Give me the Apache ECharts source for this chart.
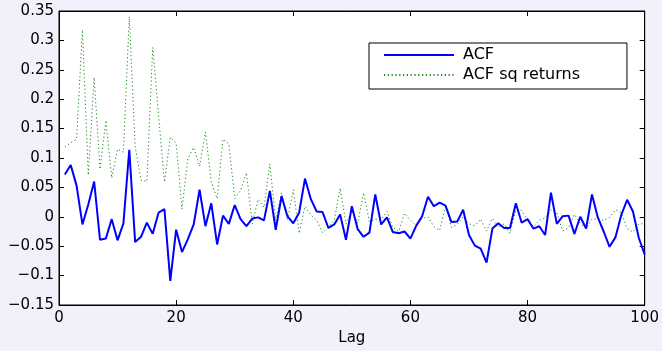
<!DOCTYPE html>
<html>
<head>
<meta charset="utf-8">
<script src="https://cdn.jsdelivr.net/npm/echarts@6/dist/echarts.min.js"></script>
<style>html,body{margin:0;padding:0;background:#f1f1fb;}#c{width:662px;height:351px;}</style>
</head>
<body>
<div id="c"></div>
<script>
var lags = [];
for (var i = 1; i <= 100; i++) lags.push(i);

var acf = [
 0.072, 0.088, 0.053,-0.013, 0.021, 0.060,-0.039,-0.037,-0.004,-0.040,
-0.011, 0.114,-0.043,-0.034,-0.010,-0.029, 0.007, 0.013,-0.109,-0.022,
-0.060,-0.038,-0.013, 0.046,-0.016, 0.023,-0.047, 0.002,-0.012, 0.020,
-0.004,-0.016,-0.003,-0.001,-0.006, 0.044,-0.022, 0.035, 0.001,-0.011,
 0.007, 0.065, 0.030, 0.009, 0.008,-0.019,-0.013, 0.004,-0.039, 0.018,
-0.021,-0.034,-0.027, 0.038,-0.013,-0.001,-0.026,-0.028,-0.025,-0.037,
-0.015, 0.001, 0.034, 0.018, 0.024, 0.019,-0.009,-0.008, 0.012,-0.031,
-0.049,-0.054,-0.078,-0.020,-0.011,-0.019,-0.019, 0.023,-0.010,-0.004,
-0.020,-0.016,-0.031, 0.041,-0.012, 0.001, 0.002,-0.029, 0.000,-0.020,
 0.038,-0.001,-0.025,-0.051,-0.035, 0.003, 0.029, 0.009,-0.036,-0.064
];

var acfSq = [
 0.119, 0.126, 0.132, 0.318, 0.071, 0.237, 0.081, 0.164, 0.066, 0.115,
 0.110, 0.340, 0.120, 0.062, 0.060, 0.288, 0.173, 0.059, 0.135, 0.125,
 0.013, 0.099, 0.118, 0.086, 0.144, 0.059, 0.031, 0.132, 0.124, 0.031,
 0.045, 0.075,-0.012, 0.030, 0.016, 0.090,-0.006, 0.041,-0.006, 0.046,
-0.028, 0.018, 0.003,-0.006,-0.027,-0.017,-0.006, 0.049,-0.012, 0.010,
-0.011, 0.041,-0.008,-0.004,-0.005, 0.009,-0.018,-0.025, 0.006,-0.006,
-0.015,-0.003, 0.000,-0.017,-0.023, 0.018,-0.018,-0.013, 0.000,-0.012,
-0.015,-0.004,-0.024,-0.003,-0.018,-0.012,-0.028, 0.012, 0.011,-0.006,
-0.017,-0.006,-0.002, 0.012, 0.007,-0.024,-0.019, 0.004,-0.011,-0.020,
-0.004,-0.004,-0.006,-0.001, 0.012, 0.007,-0.020,-0.026,-0.012,-0.012
];

var seriesNames = ['ACF', 'ACF sq returns'];
var xLabel = 'Lag';

function pairs(vals) { return lags.map(function (l, i) { return [l, vals[i]]; }); }
function fmtY(v) {
  var r = Math.round(v * 100) / 100;
  var s = String(r);
  return s.replace('-', '\u2212');
}

var FONT = 'DejaVu Sans';
var chart = echarts.init(document.getElementById('c'), null, {renderer: 'canvas'});
var axisLine = {show: true, onZero: false, lineStyle: {color: '#000', width: 1}};
var tick = {show: true, inside: true, length: 5, lineStyle: {color: '#000', width: 1}};

chart.setOption({
  backgroundColor: '#f1f1fb',
  animation: false,
  grid: {left: 59, right: 16, top: 11, bottom: 33, show: true, backgroundColor: '#ffffff', borderColor: '#000', borderWidth: 1},
  legend: {
    orient: 'vertical',
    left: 369, top: 43,
    padding: [4, 47, 6, 14],
    itemGap: 4,
    itemWidth: 70, itemHeight: 14,
    backgroundColor: '#ffffff',
    borderColor: '#000', borderWidth: 1,
    itemStyle: {opacity: 0},
    textStyle: {fontFamily: FONT, fontSize: 16, color: '#000', padding: [0, 0, 0, 4]},
    data: seriesNames
  },
  xAxis: [{
    type: 'value', min: 0, max: 100, interval: 20, position: 'bottom',
    axisLine: axisLine, axisTick: tick, splitLine: {show: false},
    axisLabel: {fontFamily: FONT, fontSize: 15, color: '#000', margin: 6},
    name: xLabel, nameLocation: 'middle', nameGap: 26,
    nameTextStyle: {fontFamily: FONT, fontSize: 15, color: '#000'}
  }, {
    type: 'value', min: 0, max: 100, interval: 20, position: 'top',
    axisLine: axisLine, axisTick: tick, splitLine: {show: false}, axisLabel: {show: false}
  }],
  yAxis: [{
    type: 'value', min: -0.15, max: 0.35, interval: 0.05, position: 'left',
    axisLine: axisLine, axisTick: tick, splitLine: {show: false},
    axisLabel: {fontFamily: FONT, fontSize: 15, color: '#000', margin: 5, formatter: fmtY}
  }, {
    type: 'value', min: -0.15, max: 0.35, interval: 0.05, position: 'right',
    axisLine: axisLine, axisTick: tick, splitLine: {show: false}, axisLabel: {show: false}
  }],
  series: [{
    name: seriesNames[0], type: 'line', symbol: 'none', xAxisIndex: 0, yAxisIndex: 0,
    data: pairs(acf),
    lineStyle: {color: '#0000ff', width: 2},
    itemStyle: {color: '#0000ff'},
    z: 3
  }, {
    name: seriesNames[1], type: 'line', symbol: 'none', xAxisIndex: 0, yAxisIndex: 0,
    data: pairs(acfSq),
    lineStyle: {color: '#1a8c1a', width: 1, type: [1.2, 2.6]},
    itemStyle: {color: '#1a8c1a'},
    z: 2
  }]
});
</script>
</body>
</html>
